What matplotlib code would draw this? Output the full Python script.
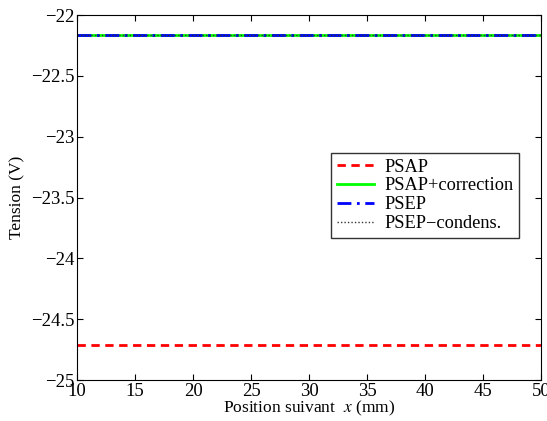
import numpy as np
import matplotlib
matplotlib.use('Agg')
import matplotlib.pyplot as plt

# positions (mm) and tension values (V)
x_mm = [10, 20, 30, 40, 50]
psap = [-24.71, -24.71, -24.71, -24.71, -24.71]
psap_corr = [-22.165, -22.165, -22.165, -22.165, -22.165]
psep = [-22.165, -22.165, -22.165, -22.165, -22.165]
psep_cond = [-22.165, -22.165, -22.165, -22.165, -22.165]

plt.rcParams['font.family'] = ['Liberation Serif', 'DejaVu Serif']
plt.rcParams['mathtext.fontset'] = 'stix'

fig = plt.figure(figsize=(5.47, 4.21), dpi=100)
ax = fig.add_axes([0.141, 0.097, 0.848, 0.867])

ax.plot(x_mm, psap, color='red', ls=(0, (3, 2)), lw=2, label='PSAP')
ax.plot(x_mm, psap_corr, color='#00ff00', ls='-', lw=2, label='PSAP+correction')
ax.plot(x_mm, psep, color='blue', ls=(0, (5, 2, 1, 2)), lw=2, label='PSEP')
ax.plot(x_mm, psep_cond, color='#333333', ls=(0, (1, 1.5)), lw=1, label='PSEP\u2212condens.')

ax.set_xlim(10, 50)
ax.set_ylim(-25, -22)
ax.set_xticks(np.arange(10, 51, 5))
ax.set_yticks(np.arange(-25, -21.9, 0.5))
ax.set_yticklabels(['\u221225', '\u221224.5', '\u221224', '\u221223.5',
                    '\u221223', '\u221222.5', '\u221222'])
ax.tick_params(direction='in', labelsize=13.5, top=True, right=True, length=4, pad=2)
ax.set_xlabel('Position suivant  $x$ (mm)', fontsize=12.5, labelpad=-1)
ax.set_ylabel('Tension (V)', fontsize=12.5, labelpad=4)

leg = ax.legend(loc='upper right', bbox_to_anchor=(0.953, 0.622), fontsize=13.2,
                frameon=True, fancybox=False, edgecolor='black',
                borderaxespad=0, handlelength=2.0, handletextpad=0.6,
                labelspacing=0.1, borderpad=0.3)
leg.get_frame().set_linewidth(1)

fig.savefig('out.png', dpi=100)
